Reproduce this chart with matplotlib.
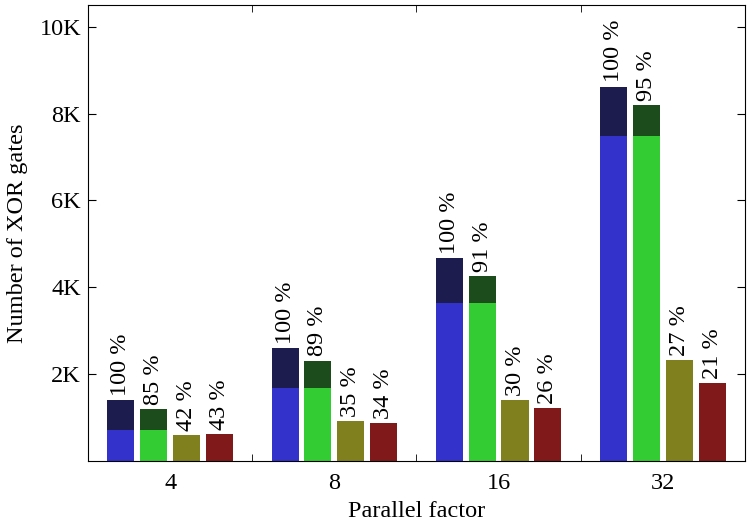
import numpy as np
import matplotlib.pyplot as plt

# values (number of XOR gates)
factors = ["4", "8", "16", "32"]
blue_base = [710, 1690, 3640, 7490]
blue_total = [1410, 2600, 4680, 8620]
green_total = [1200, 2310, 4260, 8190]
olive_vals = [590, 910, 1400, 2330]
red_vals = [610, 880, 1220, 1800]

blue_pct = ["100 %", "100 %", "100 %", "100 %"]
green_pct = ["85 %", "89 %", "91 %", "95 %"]
olive_pct = ["42 %", "35 %", "30 %", "27 %"]
red_pct = ["43 %", "34 %", "26 %", "21 %"]

ytick_vals = [2000, 4000, 6000, 8000, 10000]
ytick_labels = ["2K", "4K", "6K", "8K", "10K"]

plt.rcParams["font.family"] = ["Liberation Serif", "DejaVu Serif"]
plt.rcParams["font.size"] = 17.5

fig = plt.figure(figsize=(7.48, 5.28), dpi=100)
ax = fig.add_axes([0.1176, 0.127, 0.8784, 0.8635])

x = np.arange(len(factors))
w = 0.165
step = 0.2

blue_top = np.array(blue_total) - np.array(blue_base)
green_top = np.array(green_total) - np.array(blue_base)

xb = x - 1.5 * step
xg = x - 0.5 * step
xo = x + 0.5 * step
xr = x + 1.5 * step

ax.bar(xb, blue_base, w, color="#3333cc")
ax.bar(xb, blue_top, w, bottom=blue_base, color="#1c1c4e")
ax.bar(xg, blue_base, w, color="#33cc33")
ax.bar(xg, green_top, w, bottom=blue_base, color="#1c4c1c")
ax.bar(xo, olive_vals, w, color="#80801f")
ax.bar(xr, red_vals, w, color="#801a1a")

# percentage labels above each bar
for xs, tops, labels in [(xb, blue_total, blue_pct), (xg, green_total, green_pct),
                         (xo, olive_vals, olive_pct), (xr, red_vals, red_pct)]:
    for xi, t, lab in zip(xs, tops, labels):
        ax.annotate(lab, (xi, t), xytext=(0, 3), textcoords="offset points",
                    rotation=90, ha="center", va="bottom")

ax.set_xlim(-0.5, 3.5)
ax.set_ylim(0, 10500)
ax.set_yticks(ytick_vals, ytick_labels)
ax.set_xticks(x, factors)
ax.set_xticks([0.5, 1.5, 2.5], minor=True)
ax.tick_params(axis="x", which="major", length=0, pad=9)
ax.tick_params(axis="x", which="minor", direction="in", length=5, top=True)
ax.tick_params(axis="y", direction="in", length=6, right=True, pad=5)
ax.yaxis.set_minor_locator(plt.NullLocator())

ax.set_xlabel("Parallel factor", labelpad=5)
ax.set_ylabel("Number of XOR gates", labelpad=8)

fig.savefig("out.png", dpi=100)
